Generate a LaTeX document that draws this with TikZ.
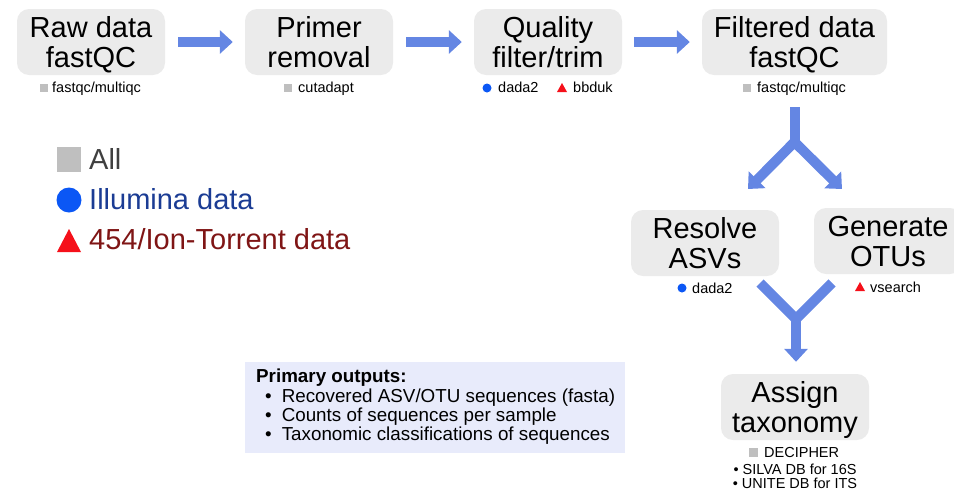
\documentclass[tikz,border=0pt]{standalone}
\usepackage{fontspec}
\setmainfont{Liberation Sans}
\usetikzlibrary{arrows.meta}
\definecolor{boxgray}{HTML}{EBEBEB}
\definecolor{arrowblue}{HTML}{6486E3}
\definecolor{symgray}{HTML}{BFBFBF}
\definecolor{symblue}{HTML}{0B57F5}
\definecolor{symred}{HTML}{F5101A}
\definecolor{alltext}{HTML}{404040}
\definecolor{illtext}{HTML}{1B3C94}
\definecolor{iontext}{HTML}{7F1515}
\definecolor{outfill}{HTML}{E8EBFB}
\tikzset{
 stepbox/.style={fill=boxgray, rounded corners=12pt, minimum height=66pt, minimum width=148pt, inner sep=0pt},
 boxtext/.style={anchor=base, inner sep=0pt, align=center, font=\fontsize{29}{30}\selectfont},
 flow/.style={draw=arrowblue, line width=10pt, -{Triangle[width=23pt,length=13pt]}},
 flowplain/.style={draw=arrowblue, line width=10pt},
 tool/.style={anchor=base west, inner sep=0pt, font=\fontsize{14.5}{16}\selectfont},
 legendtext/.style={anchor=base west, inner sep=0pt, font=\fontsize{29}{30}\selectfont},
 outtext/.style={anchor=base west, inner sep=0pt, font=\fontsize{18.8}{20}\selectfont},
}
\begin{document}
\begin{tikzpicture}[x=1pt,y=-1pt]
\useasboundingbox (0,0) rectangle (954,491);
% process boxes
\node[stepbox] (raw) at (91,42) {};
\node[stepbox] (primer) at (319,42) {};
\node[stepbox] (quality) at (548,42) {};
\node[stepbox, minimum width=185pt] (filtered) at (794.5,42) {};
\node[stepbox] (resolve) at (705,243) {};
\node[stepbox] (generate) at (888,241) {};
\node[stepbox] (assign) at (795,407) {};
\node[boxtext] (rawT) at ([yshift=-25pt]raw.center) {Raw data\\fastQC};
\node[boxtext] (primerT) at ([yshift=-25pt]primer.center) {Primer\\removal};
\node[boxtext] (qualityT) at ([yshift=-25pt]quality.center) {Quality\\filter/trim};
\node[boxtext] (filteredT) at ([yshift=-25pt]filtered.center) {Filtered data\\fastQC};
\node[boxtext] (resolveT) at ([yshift=-25pt]resolve.center) {Resolve\\ASVs};
\node[boxtext] (generateT) at ([yshift=-25pt]generate.center) {Generate\\OTUs};
\node[boxtext] (assignT) at ([yshift=-25pt]assign.center) {Assign\\taxonomy};
% horizontal arrows
\draw[flow, shorten <=13pt, shorten >=12pt] (raw) -- (primer);
\draw[flow, shorten <=13pt, shorten >=12pt] (primer) -- (quality);
\draw[flow, shorten <=12pt, shorten >=12pt] (quality) -- (filtered);
% fork
\coordinate (fork) at (794.5,142);
\coordinate (forkL) at (748,189);
\coordinate (forkR) at (842,189);
\draw[flowplain, shorten <=32pt] (filtered.south) -- (fork);
\draw[draw=arrowblue, line width=10pt, line join=miter, {Triangle[width=23pt,length=13pt]}-{Triangle[width=23pt,length=13pt]}] (forkL) -- (fork) -- (forkR);
% merge
\coordinate (mL) at (760,283);
\coordinate (mR) at (832,283);
\coordinate (merge) at (796,319);
\draw[flowplain, line join=miter] (mL) -- (merge) -- (mR);
\draw[flow, shorten >=12pt] (merge) -- (assign.north -| merge);
% tool labels
\fill[symgray] (40,84) rectangle (48,92);
\node[tool] (t1) at (52,92) {fastqc/multiqc};
\fill[symgray] (284,84) rectangle (292,92);
\node[tool] (t2) at (298,92) {cutadapt};
\fill[symblue] (487,88) circle (4.5pt);
\node[tool] (t3) at (498,92) {dada2};
\fill[symred] (557,92) -- (567,92) -- (562,83) -- cycle;
\node[tool] (t4) at (573,92) {bbduk};
\fill[symgray] (743,84) rectangle (751,92);
\node[tool] (t5) at (757,92) {fastqc/multiqc};
\fill[symblue] (682,288) circle (4.5pt);
\node[tool] (t6) at (692,293) {dada2};
\fill[symred] (855,291) -- (865,291) -- (860,282) -- cycle;
\node[tool] (t7) at (870,292) {vsearch};
\fill[symgray] (749,448) rectangle (758,457);
\node[tool] (t8) at (764,457) {DECIPHER};
\node[tool, anchor=base] (t9) at (795,474) {• SILVA DB for 16S};
\node[tool, anchor=base] (t10) at (795,488) {• UNITE DB for ITS};
% legend
\fill[symgray] (57,147) rectangle (81,172);
\node[legendtext, text=alltext] (lall) at (89,169) {All};
\fill[symblue] (69,200) circle (12.5pt);
\node[legendtext, text=illtext] (lill) at (89,209) {Illumina data};
\fill[symred] (57,252) -- (81,252) -- (69,229) -- cycle;
\node[legendtext, text=iontext] (lion) at (89,249) {454/Ion-Torrent data};
% primary outputs
\node[fill=outfill, minimum width=380pt, minimum height=91pt, inner sep=0pt, anchor=north west] (outbox) at (245,362) {};
\node[outtext, font=\fontsize{18.8}{20}\selectfont\bfseries] (po1) at (256,382) {Primary outputs:};
\node[outtext] (po2) at (265,402) {•\hspace{10pt}Recovered ASV/OTU sequences (fasta)};
\node[outtext] (po3) at (265,421) {•\hspace{10pt}Counts of sequences per sample};
\node[outtext] (po4) at (265,440) {•\hspace{10pt}Taxonomic classifications of sequences};
\end{tikzpicture}
\end{document}
